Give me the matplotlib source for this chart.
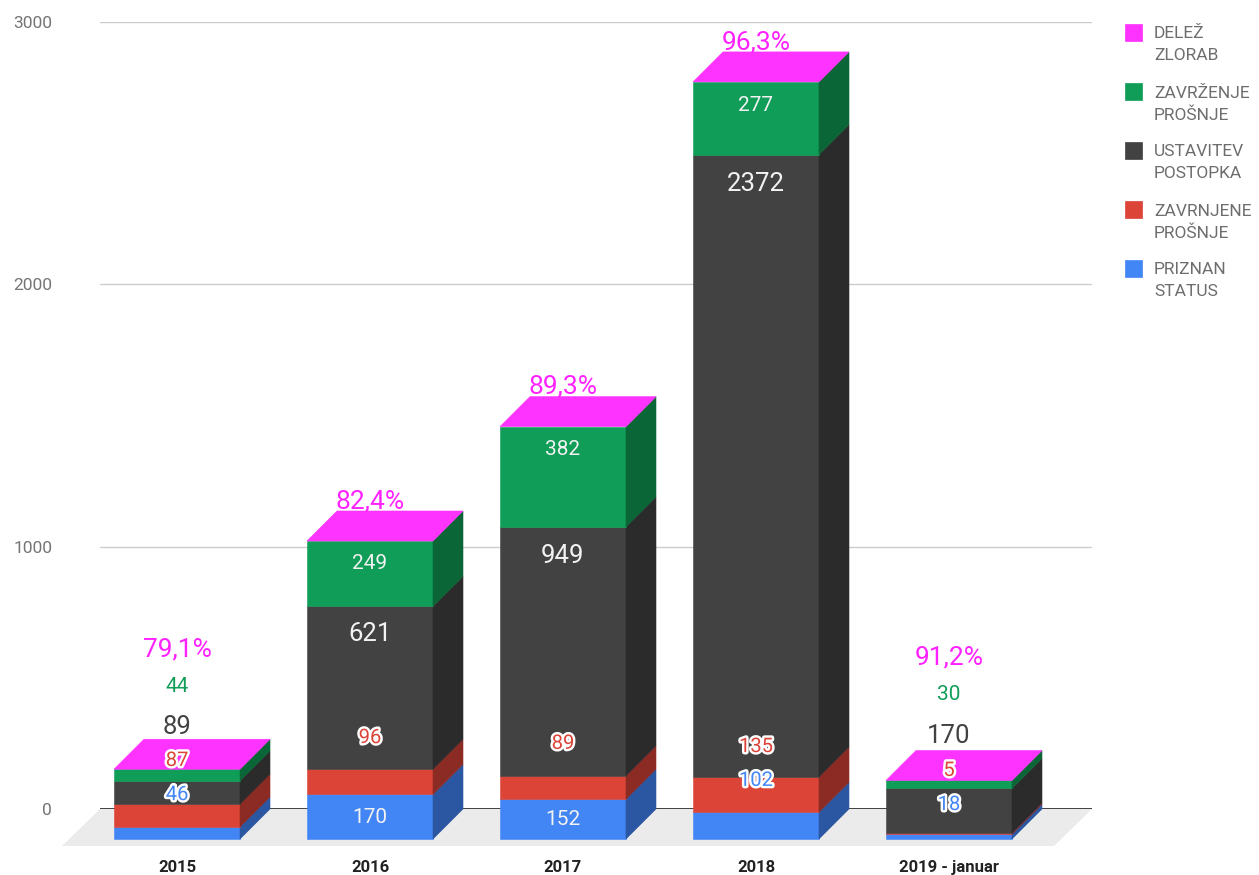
import matplotlib
matplotlib.use("Agg")
import matplotlib.pyplot as plt
from matplotlib.patches import Polygon, Rectangle
import matplotlib.patheffects as pe

# ---------------- data ----------------
categories = ["2015", "2016", "2017", "2018", "2019 - januar"]
priznan_status = [46, 170, 152, 102, 18]
zavrnjene_prosnje = [87, 96, 89, 135, 5]
ustavitev_postopka = [89, 621, 949, 2372, 170]
zavrzenje_prosnje = [44, 249, 382, 277, 30]
delez_zlorab = [79.1, 82.4, 89.3, 96.3, 91.2]   # percent

legend_names = ["DELEŽ\nZLORAB", "ZAVRŽENJE\nPROŠNJE", "USTAVITEV\nPOSTOPKA",
                "ZAVRNJENE\nPROŠNJE", "PRIZNAN\nSTATUS"]

# ---------------- style ----------------
plt.rcParams['font.family'] = ['Roboto', 'DejaVu Sans']
W, H, DPI = 1259, 875, 100
front_c = {"blue": "#4285f4", "red": "#db4437", "dark": "#424242", "green": "#0f9d58", "pink": "#ff33ff"}
side_c = {"blue": "#2a56a2", "red": "#8c2b24", "dark": "#2b2b2b", "green": "#0a6537"}
stack = [("blue", priznan_status), ("red", zavrnjene_prosnje),
         ("dark", ustavitev_postopka), ("green", zavrzenje_prosnje)]

# label layout (height on the value axis where Google placed each label, and style)
label_y = {
    "pink":  [607, 1174, 1612, 2920, 576],
    "green": [467, 936, 1370, 2682, 436],
    "dark":  [313, 668, 965, 2383, 279],
    "red":   [185, 272, 250, 238, 147],
    "blue":  [55, -32, -40, 109, 17],
}
label_style = {
    "green": ["out", "in", "in", "in", "out"],
    "dark":  ["out", "in", "in", "in", "out"],
    "red":   ["halo", "halo", "halo", "halo", "halo"],
    "blue":  ["halo", "in", "in", "halo", "halo"],
}
label_size = {"pink": 19, "green": 15, "dark": 18.5, "red": 14.5, "blue": 14.5}
blue_in_size = 15

fig = plt.figure(figsize=(W / DPI, H / DPI), dpi=DPI)
ax = fig.add_axes([100 / W, 66 / H, 992 / W, 787 / H])
ax.set_ylim(0, 3000)
ax.set_xlim(-0.399, 4.741)

# depth of the 3D effect (px) converted to data units
DEPTH_PX = 30
px_per_x = 992 / (4.741 + 0.399)
px_per_y = 787 / 3000
dx = DEPTH_PX / px_per_x
dy = DEPTH_PX / px_per_y
bw = 126 / px_per_x

# floor
x0, x1 = ax.get_xlim()
fl_dx = 38 / px_per_x
fl_dy = 37 / px_per_y
ax.add_patch(Polygon([(x0, 0), (x1, 0), (x1 - fl_dx, -fl_dy), (x0 - fl_dx, -fl_dy)],
                     closed=True, facecolor="#ebebeb", edgecolor="none", zorder=0.3, clip_on=False))

# grid & axis
ax.set_yticks([0, 1000, 2000, 3000])
ax.set_yticklabels(["0", "1000", "2000", "3000"])
ax.yaxis.grid(True, color="#cccccc", lw=1.0)
ax.set_axisbelow(True)
ax.axhline(0, color="#333333", lw=1.3, zorder=0.8)
for s in ax.spines.values():
    s.set_visible(False)
ax.tick_params(axis="y", length=0, pad=34.5, labelsize=12.5, labelcolor="#757575")
ax.set_xticks(range(len(categories)))
ax.set_xticklabels(categories, fontweight="bold", fontsize=12, color="#222222")
ax.tick_params(axis="x", length=0, pad=36.5)

# bars
for i in range(len(categories)):
    bottom = 0
    for key, vals in stack:
        v = vals[i]
        top = bottom + v
        ax.add_patch(Rectangle((i - bw / 2, bottom - dy), bw, v, facecolor=front_c[key],
                               edgecolor=front_c[key], lw=0.4, zorder=2, clip_on=False))
        ax.add_patch(Polygon([(i + bw / 2, bottom - dy), (i + bw / 2 + dx, bottom),
                              (i + bw / 2 + dx, top), (i + bw / 2, top - dy)], closed=True,
                             facecolor=side_c[key], edgecolor=side_c[key], lw=0.4, zorder=2, clip_on=False))
        bottom = top
    ax.add_patch(Polygon([(i - bw / 2, bottom - dy), (i + bw / 2, bottom - dy),
                          (i + bw / 2 + dx, bottom), (i - bw / 2 + dx, bottom)], closed=True,
                         facecolor=front_c["pink"], edgecolor=front_c["pink"], lw=0.4, zorder=2.1,
                         clip_on=False))

# labels
halo = [pe.withStroke(linewidth=3.5, foreground="white")]
for i in range(len(categories)):
    pct = f"{delez_zlorab[i]:.1f}".replace(".", ",") + "%"
    ax.text(i, label_y["pink"][i], pct, ha="center", va="center", fontsize=label_size["pink"],
            color="#ff22ff", zorder=5, clip_on=False)
    for key, vals in stack:
        st = label_style[key][i]
        size = label_size[key]
        if st == "in":
            color, eff = "#f2f2f2", None
            if key == "blue":
                size = blue_in_size
        elif st == "out":
            color, eff = front_c[key], None
        else:
            color, eff = front_c[key], halo
        ax.text(i, label_y[key][i], str(vals[i]), ha="center", va="center", fontsize=size,
                color=color, path_effects=eff, zorder=5, clip_on=False)

# legend (drawn manually, Google-chart style)
leg_colors = [front_c["pink"], front_c["green"], front_c["dark"], front_c["red"], front_c["blue"]]
for k, (name, col) in enumerate(zip(legend_names, leg_colors)):
    top_px = 24 + 59 * k
    fig.add_artist(Rectangle((1125 / W, 1 - (top_px + 17) / H), 17 / W, 17 / H,
                             transform=fig.transFigure, facecolor=col, edgecolor=col, lw=0.5))
    for j, line in enumerate(name.split("\n")):
        fig.text(1154 / W, 1 - (top_px + 10 + 22 * j) / H, line, ha="left", va="center",
                 fontsize=12.5, color="#6d6d6d")

fig.savefig("out.png", dpi=DPI)
